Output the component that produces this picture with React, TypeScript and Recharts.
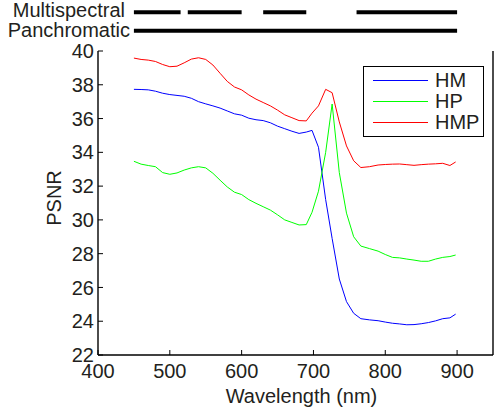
import {
  Label,
  Legend,
  Line,
  LineChart,
  ReferenceLine,
  XAxis,
  YAxis,
} from 'recharts';

const FONT = '"Liberation Sans", Arial, Helvetica, sans-serif';
const INK = '#231f20';

const wavelengths = [
  450, 460, 470, 480, 490, 500, 510, 520, 530, 540, 550, 560, 570, 580, 590,
  600, 610, 620, 630, 640, 650, 660, 670, 680, 690, 698, 707, 717, 726, 736,
  746, 756, 766, 778, 790, 800, 810, 820, 830, 840, 850, 860, 870, 880, 890,
  898,
];

const hm = [
  37.73, 37.72, 37.7, 37.62, 37.5, 37.42, 37.37, 37.32, 37.2, 37.0, 36.87,
  36.75, 36.62, 36.45, 36.28, 36.2, 36.02, 35.93, 35.88, 35.75, 35.55, 35.4,
  35.25, 35.12, 35.2, 35.3, 34.3, 31.2, 28.9, 26.5, 25.16, 24.47, 24.15, 24.08,
  24.03, 23.95, 23.88, 23.84, 23.79, 23.8, 23.85, 23.92, 24.02, 24.15, 24.2,
  24.42,
];

const hp = [
  33.47, 33.3, 33.22, 33.15, 32.8, 32.7, 32.78, 32.95, 33.08, 33.15, 33.08,
  32.76, 32.35, 31.95, 31.64, 31.5, 31.2, 30.98, 30.78, 30.58, 30.3, 30.0,
  29.85, 29.7, 29.72, 30.45, 31.7, 34.0, 36.86, 32.8, 30.4, 29.0, 28.45, 28.3,
  28.15, 27.95, 27.78, 27.75, 27.68, 27.62, 27.55, 27.55, 27.68, 27.78, 27.83,
  27.92,
];

const hmp = [
  39.58, 39.5, 39.46, 39.38, 39.2, 39.07, 39.1, 39.3, 39.52, 39.6, 39.5,
  39.17, 38.68, 38.2, 37.87, 37.7, 37.4, 37.15, 36.95, 36.75, 36.5, 36.22,
  36.05, 35.88, 35.86, 36.32, 36.75, 37.73, 37.53, 35.8, 34.38, 33.5, 33.1,
  33.15, 33.25, 33.28, 33.3, 33.31, 33.27, 33.23, 33.27, 33.3, 33.32, 33.35,
  33.22, 33.43,
];

const seriesOrder = ['HM', 'HP', 'HMP'];

const xTicks = [400, 500, 600, 700, 800, 900];
const yTicks = [22, 24, 26, 28, 30, 32, 34, 36, 38, 40];

// spectral coverage bars drawn above the axes
const msBands = [
  [450, 515],
  [525, 600],
  [630, 690],
  [760, 900],
];
const panBands = [[450, 900]];

const MS_ROW = 42.29;
const PAN_ROW = 41.2;

const rows = wavelengths.map((w, i) => ({
  w,
  hm: hm[i],
  hp: hp[i],
  hmp: hmp[i],
}));

const TICK = { fontSize: 20, fill: INK, fontFamily: FONT };

function BoxLegend({ payload }: any) {
  const items = [...(payload || [])].sort(
    (a: any, b: any) => seriesOrder.indexOf(a.value) - seriesOrder.indexOf(b.value),
  );
  return (
    <div
      style={{
        width: 121,
        height: 71,
        boxSizing: 'border-box',
        border: '1.4px solid #000',
        background: '#fff',
        paddingTop: 3,
        fontFamily: FONT,
        fontSize: 20,
        color: INK,
      }}
    >
      {items.map((p: any) => (
        <div
          key={p.value}
          style={{ display: 'flex', alignItems: 'center', height: 21 }}
        >
          <div
            style={{
              marginLeft: 9,
              width: 55,
              height: 0,
              borderTop: `1px solid ${p.color}`,
            }}
          />
          <span style={{ marginLeft: 7, lineHeight: '21px' }}>{p.value}</span>
        </div>
      ))}
    </div>
  );
}

export default function App() {
  return (
    <div
      style={{
        position: 'absolute',
        left: 0,
        top: 0,
        width: 494,
        height: 412,
        background: '#fff',
        fontFamily: FONT,
      }}
    >
      <LineChart
        width={494}
        height={412}
        data={rows}
        margin={{ top: 51, right: 0, bottom: 0, left: 0 }}
      >
        <XAxis
          dataKey="w"
          type="number"
          domain={[400, 950]}
          ticks={xTicks}
          height={57}
          tick={TICK}
          tickSize={-5}
          tickMargin={14}
          axisLine={{ stroke: '#000', strokeWidth: 1.4 }}
          tickLine={{ stroke: '#000' }}
        >
          <Label
            value="Wavelength (nm)"
            position="insideBottom"
            offset={9}
            dx={6}
            style={{ fontSize: 20, fill: INK, fontFamily: FONT }}
          />
        </XAxis>
        <XAxis
          xAxisId="top"
          dataKey="w"
          type="number"
          orientation="top"
          domain={[400, 950]}
          ticks={xTicks}
          height={0}
          tick={false}
          tickSize={-5}
          axisLine={{ stroke: '#000', strokeWidth: 1.4 }}
          tickLine={{ stroke: '#000' }}
        />
        <YAxis
          type="number"
          domain={[22, 40]}
          allowDataOverflow
          ticks={yTicks}
          width={98}
          tick={TICK}
          tickSize={-5}
          tickMargin={9}
          axisLine={{ stroke: '#000', strokeWidth: 1.4 }}
          tickLine={{ stroke: '#000' }}
        />
        <YAxis
          yAxisId="right"
          type="number"
          orientation="right"
          domain={[22, 40]}
          ticks={yTicks}
          width={1}
          tick={false}
          tickSize={-5}
          axisLine={{ stroke: '#000', strokeWidth: 1.4 }}
          tickLine={{ stroke: '#000' }}
        />
        <Legend
          verticalAlign="middle"
          align="center"
          layout="vertical"
          content={<BoxLegend />}
          wrapperStyle={{ left: 363, top: 66, width: 121 }}
        />
        {msBands.map(([a, b]) => (
          <ReferenceLine
            key={`ms-${a}`}
            segment={[
              { x: a, y: MS_ROW },
              { x: b, y: MS_ROW },
            ]}
            stroke="#000"
            strokeWidth={4}
            ifOverflow="visible"
          />
        ))}
        {panBands.map(([a, b]) => (
          <ReferenceLine
            key={`pan-${a}`}
            segment={[
              { x: a, y: PAN_ROW },
              { x: b, y: PAN_ROW },
            ]}
            stroke="#000"
            strokeWidth={4}
            ifOverflow="visible"
          />
        ))}
        <Line
          dataKey="hm"
          name="HM"
          stroke="#0000ff"
          strokeWidth={1}
          dot={false}
          type="linear"
          isAnimationActive={false}
        />
        <Line
          dataKey="hp"
          name="HP"
          stroke="#00ff00"
          strokeWidth={1}
          dot={false}
          type="linear"
          isAnimationActive={false}
        />
        <Line
          dataKey="hmp"
          name="HMP"
          stroke="#ff0000"
          strokeWidth={1}
          dot={false}
          type="linear"
          isAnimationActive={false}
        />
      </LineChart>
      <div
        style={{
          position: 'absolute',
          left: 0,
          top: 0,
          width: 125,
          textAlign: 'right',
          fontSize: 20,
          lineHeight: '20px',
          color: INK,
        }}
      >
        Multispectral
      </div>
      <div
        style={{
          position: 'absolute',
          left: 0,
          top: 20,
          width: 130,
          textAlign: 'right',
          fontSize: 20,
          lineHeight: '20px',
          color: INK,
        }}
      >
        Panchromatic
      </div>
      <div
        style={{
          position: 'absolute',
          left: 54,
          top: 198,
          transform: 'translate(-50%, -50%) rotate(-90deg)',
          fontSize: 20,
          lineHeight: '20px',
          color: INK,
          whiteSpace: 'nowrap',
        }}
      >
        PSNR
      </div>
    </div>
  );
}
